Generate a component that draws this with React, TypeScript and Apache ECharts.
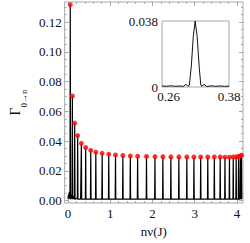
import { useEffect, useRef } from "react";
import * as echarts from "echarts";

// Peak positions (nν in units of J) and peak heights Γ0→n (red dots)
const peakX = [0.055, 0.105, 0.16, 0.23, 0.318, 0.42, 0.54, 0.66, 0.81, 0.966, 1.126, 1.3, 1.477, 1.65, 1.86, 2.06, 2.248, 2.437, 2.626, 2.815, 2.983, 3.143, 3.311, 3.466, 3.605, 3.718, 3.824, 3.914, 3.983, 4.04, 4.082, 4.109];
const peakY = [0.1317, 0.0703, 0.0521, 0.0437, 0.0385, 0.0357, 0.0338, 0.0326, 0.0318, 0.0312, 0.0307, 0.0303, 0.03, 0.0298, 0.0297, 0.0296, 0.0295, 0.0294, 0.0294, 0.0293, 0.0293, 0.0293, 0.0293, 0.0293, 0.0293, 0.0292, 0.0292, 0.0293, 0.0294, 0.0297, 0.0301, 0.0305];

// Low-level ripple of the spectrum near nν = 0 and the baseline
const lowX = [0, 0.012, 0.022, 0.032, 0.04, 0.075, 0.085, 0.13, 0.14, 0.2, 0.3, 0.6, 1.0, 1.5, 2.0, 2.5, 3.0, 3.5, 4.12];
const lowY = [0.001, 0.004, 0.002, 0.006, 0.003, 0.004, 0.002, 0.003, 0.0015, 0.0015, 0.001, 0.001, 0.001, 0.001, 0.001, 0.001, 0.001, 0.001, 0.001];

// Inset: zoom of the peak near nν ≈ 0.32
const insetX = [0.26, 0.268, 0.276, 0.284, 0.292, 0.298, 0.303, 0.3065, 0.309, 0.3125, 0.316, 0.3194, 0.323, 0.3265, 0.3295, 0.332, 0.335, 0.34, 0.348, 0.356, 0.364, 0.372, 0.38];
const insetY = [0.0006, 0.0004, 0.0007, 0.0004, 0.0006, 0.0003, 0.0016, 0.0004, 0.001, 0.012, 0.029, 0.038, 0.029, 0.012, 0.001, 0.0004, 0.0016, 0.0003, 0.0007, 0.0004, 0.0006, 0.0004, 0.0005];

const xTicks = [0, 1, 2, 3, 4];
const yTicks = [0, 0.02, 0.04, 0.06, 0.08, 0.1, 0.12];
const insetXTicks = [0.26, 0.38];
const insetYTicks = [0, 0.038];

const FONT = "'Liberation Serif', 'DejaVu Serif', serif";
const FRAME = "#a8a8a8";
const TEXT = "#111";
const FS = 13;

function minorTicks(step: number, minorStep: number, lo: number, hi: number) {
  const out: number[] = [];
  const n = Math.round((hi - lo) / minorStep);
  for (let i = 0; i <= n; i++) {
    const v = +(lo + i * minorStep).toFixed(5);
    const r = v / step;
    if (Math.abs(r - Math.round(r)) > 1e-6) out.push(v);
  }
  return out;
}

export default function App() {
  const ref = useRef<HTMLDivElement>(null);
  useEffect(() => {
    const chart = echarts.init(ref.current!, null, { renderer: "svg" });

    const X_MIN = -0.078, X_MAX = 4.145;
    const Y_MIN = -0.0016, Y_MAX = 0.1335;

    const spikes: number[][] = [];
    peakX.forEach((x, i) => {
      spikes.push([x - 0.007, 0.001], [x, peakY[i]], [x + 0.007, 0.001]);
    });
    lowX.forEach((x, i) => spikes.push([x, lowY[i]]));
    spikes.sort((a, b) => a[0] - b[0]);

    const xMinor = minorTicks(1, 0.2, 0, 4.1);
    const yMinor = minorTicks(0.02, 0.005, 0, 0.13);

    const hiddenLine = { show: false, onZero: false };
    const mkX = (position: string, values: number[], len: number, labels: boolean, extra: any = {}) => ({
      type: "value",
      gridIndex: 0,
      min: X_MIN,
      max: X_MAX,
      position,
      axisLine: hiddenLine,
      splitLine: { show: false },
      axisTick: { show: true, inside: true, length: len, customValues: values, lineStyle: { color: FRAME, width: 1 } },
      axisLabel: labels
        ? { show: true, customValues: values, margin: 4, color: TEXT, fontSize: FS, fontFamily: FONT, formatter: (v: number) => String(v) }
        : { show: false },
      ...extra,
    });
    const mkY = (position: string, values: number[], len: number, labels: boolean, extra: any = {}) => ({
      type: "value",
      gridIndex: 0,
      min: Y_MIN,
      max: Y_MAX,
      position,
      axisLine: hiddenLine,
      splitLine: { show: false },
      axisTick: { show: true, inside: true, length: len, customValues: values, lineStyle: { color: FRAME, width: 1 } },
      axisLabel: labels
        ? { show: true, customValues: values, margin: 3, color: TEXT, fontSize: FS, fontFamily: FONT, formatter: (v: number) => v.toFixed(2) }
        : { show: false },
      ...extra,
    });

    const option: any = {
      animation: false,
      backgroundColor: "#fff",
      grid: [
        { left: 42, top: 2, right: 7, bottom: 35, show: true, borderColor: FRAME, borderWidth: 1, backgroundColor: "transparent" },
        { left: 162, top: 21, width: 67, height: 66, show: true, borderColor: FRAME, borderWidth: 1, backgroundColor: "#fff" },
      ],
      xAxis: [
        mkX("bottom", xTicks, 4, true, {
          name: "nν(J)",
          nameLocation: "middle",
          nameGap: 22,
          nameTextStyle: { color: TEXT, fontSize: FS, fontFamily: FONT },
        }),
        mkX("top", xTicks, 4, false),
        mkX("bottom", xMinor, 2, false),
        mkX("top", xMinor, 2, false),
        {
          type: "value",
          gridIndex: 1,
          min: 0.26,
          max: 0.38,
          position: "bottom",
          axisLine: hiddenLine,
          splitLine: { show: false },
          axisTick: { show: false },
          axisLabel: {
            show: true,
            customValues: insetXTicks,
            margin: 3,
            color: TEXT,
            fontSize: FS,
            fontFamily: FONT,
            formatter: (v: number) => (v < 0.3 ? "{l|0.26}" : "0.38"),
            rich: { l: { padding: [0, 0, 0, 13], color: TEXT, fontSize: FS, fontFamily: FONT } },
          },
        },
      ],
      yAxis: [
        mkY("left", yTicks, 4, true, {
          name: "{g|Γ}{s|0→n}",
          nameLocation: "middle",
          nameGap: 22,
          nameRotate: 90,
          nameTextStyle: {
            color: TEXT,
            fontFamily: FONT,
            rich: {
              g: { fontSize: 14, fontFamily: FONT, color: TEXT, lineHeight: 16, verticalAlign: "top" },
              s: { fontSize: 9, fontFamily: FONT, color: TEXT, lineHeight: 20, verticalAlign: "bottom" },
            },
          },
        }),
        mkY("right", yTicks, 4, false),
        mkY("left", yMinor, 2, false),
        mkY("right", yMinor, 2, false),
        {
          type: "value",
          gridIndex: 1,
          min: 0,
          max: 0.038,
          position: "left",
          axisLine: hiddenLine,
          splitLine: { show: false },
          axisTick: { show: false },
          axisLabel: {
            show: true,
            customValues: insetYTicks,
            margin: 4,
            color: TEXT,
            fontSize: FS,
            fontFamily: FONT,
            formatter: (v: number) => (v === 0 ? "0" : "0.038"),
          },
        },
      ],
      series: [
        {
          type: "line",
          xAxisIndex: 0,
          yAxisIndex: 0,
          data: spikes,
          showSymbol: false,
          lineStyle: { color: "#000", width: 1.2 },
          z: 2,
        },
        {
          type: "scatter",
          xAxisIndex: 0,
          yAxisIndex: 0,
          data: peakX.map((x, i) => [x, peakY[i]]),
          symbol: "circle",
          symbolSize: 5,
          itemStyle: { color: "#ff0000" },
          z: 3,
        },
        {
          type: "line",
          xAxisIndex: 4,
          yAxisIndex: 4,
          data: insetX.map((x, i) => [x, insetY[i]]),
          showSymbol: false,
          lineStyle: { color: "#111", width: 1 },
          z: 4,
        },
      ],
    };
    chart.setOption(option);
    return () => chart.dispose();
  }, []);
  return <div ref={ref} style={{ position: "fixed", left: 0, top: 0, width: 250, height: 243, background: "#fff" }} />;
}
